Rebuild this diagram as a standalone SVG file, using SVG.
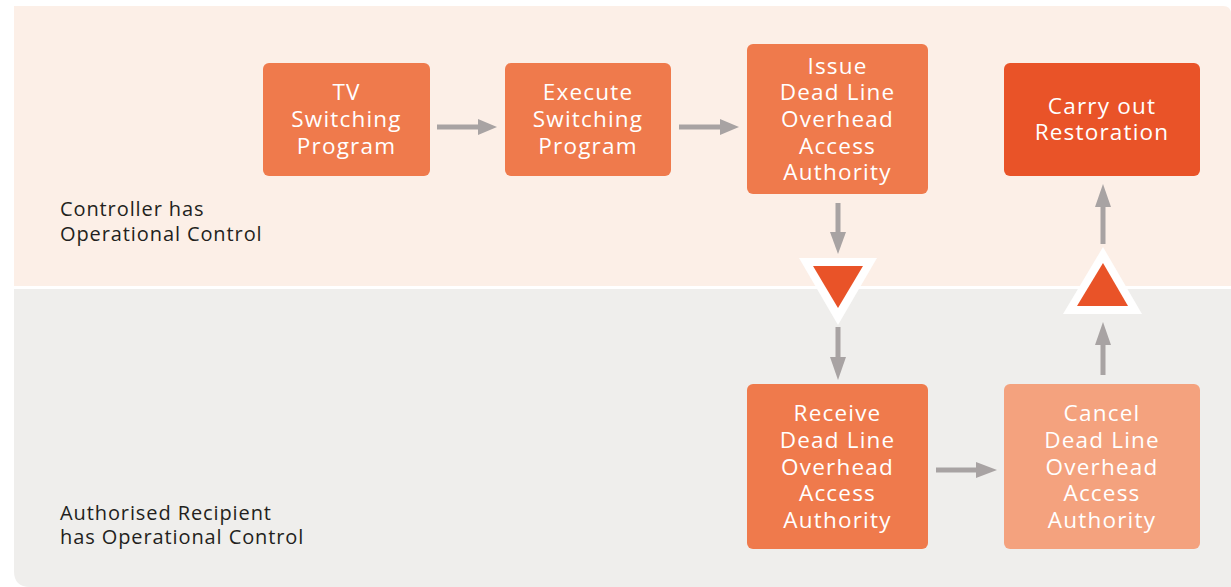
<svg xmlns="http://www.w3.org/2000/svg" width="1231" height="587" viewBox="0 0 1231 587">
<defs>
<style>
.nt{font-family:"Open Sans","Liberation Sans",sans-serif;font-size:22.5px;fill:#ffffff;text-anchor:middle;letter-spacing:1.2px}
.lb{font-family:"Open Sans","Liberation Sans",sans-serif;font-size:20px;fill:#231f20;letter-spacing:0.9px}
.ar{fill:none;stroke:#a8a3a3;stroke-width:5}
.ah{fill:#a8a3a3}
.n1{fill:#ef7a4c}
.n2{fill:#e95328}
.n3{fill:#f4a27e}
</style>
</defs>
<rect width="1231" height="587" fill="#ffffff"/>
<path d="M14 6 H1223 Q1231 6 1231 14 V286 H14 Z" fill="#fcefe7"/>
<path d="M14 289 H1231 V587 H30 Q14 587 14 571 Z" fill="#efeeec"/>
<text class="lb" x="60" y="216">Controller has</text>
<text class="lb" x="60" y="241">Operational Control</text>
<text class="lb" x="60" y="520">Authorised Recipient</text>
<text class="lb" x="60" y="544">has Operational Control</text>
<g id="connectors">
<line class="ar" x1="437" y1="127" x2="480" y2="127"/><polygon class="ah" points="478,119 497,127 478,135"/>
<line class="ar" x1="679" y1="127" x2="722" y2="127"/><polygon class="ah" points="720,119 739,127 720,135"/>
<line class="ar" x1="936" y1="470" x2="978" y2="470"/><polygon class="ah" points="976,462 997,470 976,478"/>
<line class="ar" x1="838" y1="203" x2="838" y2="234"/><polygon class="ah" points="830,232 846,232 838,254"/>
<line class="ar" x1="838" y1="327" x2="838" y2="359"/><polygon class="ah" points="830,357 846,357 838,380"/>
<line class="ar" x1="1103" y1="244" x2="1103" y2="205"/><polygon class="ah" points="1095,207 1111,207 1103,184"/>
<line class="ar" x1="1103" y1="375" x2="1103" y2="343"/><polygon class="ah" points="1095,345 1111,345 1103,322"/>
</g>
<g id="gate-down">
<polygon points="799,258 877,258 838,325" fill="#ffffff"/>
<polygon points="813,266 863,266 838,308" fill="#e95328"/>
</g>
<g id="gate-up">
<polygon points="1103,247 1142,314 1063,314" fill="#ffffff"/>
<polygon points="1103,263 1128,306 1077,306" fill="#e95328"/>
</g>
<g id="tv">
<rect class="n1" x="263" y="63" width="167" height="113" rx="6"/>
<text class="nt" x="346.5" y="100">TV</text>
<text class="nt" x="346.5" y="127">Switching</text>
<text class="nt" x="346.5" y="154">Program</text>
</g>
<g id="execute">
<rect class="n1" x="505" y="63" width="166" height="113" rx="6"/>
<text class="nt" x="588" y="100">Execute</text>
<text class="nt" x="588" y="127">Switching</text>
<text class="nt" x="588" y="154">Program</text>
</g>
<g id="issue">
<rect class="n1" x="747" y="44" width="181" height="150" rx="6"/>
<text class="nt" x="837.5" y="74">Issue</text>
<text class="nt" x="837.5" y="100">Dead Line</text>
<text class="nt" x="837.5" y="127">Overhead</text>
<text class="nt" x="837.5" y="154">Access</text>
<text class="nt" x="837.5" y="180">Authority</text>
</g>
<g id="restore">
<rect class="n2" x="1004" y="63" width="196" height="113" rx="6"/>
<text class="nt" x="1102" y="114">Carry out</text>
<text class="nt" x="1102" y="140">Restoration</text>
</g>
<g id="receive">
<rect class="n1" x="747" y="384" width="181" height="165" rx="6"/>
<text class="nt" x="837.5" y="421">Receive</text>
<text class="nt" x="837.5" y="448">Dead Line</text>
<text class="nt" x="837.5" y="475">Overhead</text>
<text class="nt" x="837.5" y="501">Access</text>
<text class="nt" x="837.5" y="528">Authority</text>
</g>
<g id="cancel">
<rect class="n3" x="1004" y="384" width="196" height="165" rx="6"/>
<text class="nt" x="1102" y="421">Cancel</text>
<text class="nt" x="1102" y="448">Dead Line</text>
<text class="nt" x="1102" y="475">Overhead</text>
<text class="nt" x="1102" y="501">Access</text>
<text class="nt" x="1102" y="528">Authority</text>
</g>
</svg>
